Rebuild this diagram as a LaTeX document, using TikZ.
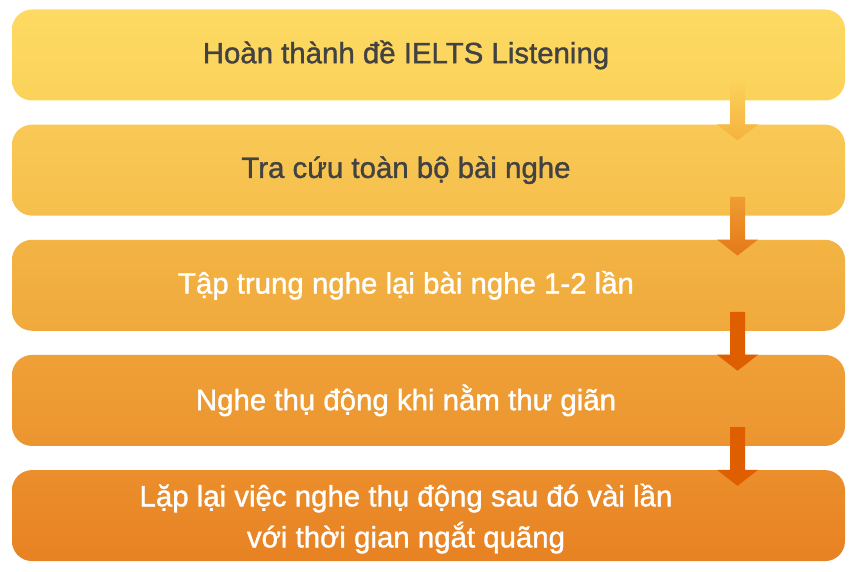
\documentclass[tikz,border=0pt]{standalone}
\usepackage{fontspec}
\setmainfont{Liberation Sans}[FakeBold=1.2]
\usetikzlibrary{
    positioning,   % Relative positioning
    calc           % Coordinate calculations
}

\definecolor{boxAtop}{HTML}{FDDA63}
\definecolor{boxAbot}{HTML}{FBD25A}
\definecolor{boxBtop}{HTML}{F9C955}
\definecolor{boxBbot}{HTML}{F6BF4C}
\definecolor{boxCtop}{HTML}{F3B444}
\definecolor{boxCbot}{HTML}{F0A93C}
\definecolor{boxDtop}{HTML}{EFA037}
\definecolor{boxDbot}{HTML}{EC9530}
\definecolor{boxEtop}{HTML}{EB8E2C}
\definecolor{boxEbot}{HTML}{E88222}
\definecolor{darktext}{HTML}{424242}
\definecolor{arrowA}{HTML}{F5B23E}
\definecolor{arrowBtop}{HTML}{EF9D33}
\definecolor{arrowBbot}{HTML}{E57818}
\definecolor{arrowC}{HTML}{DF5F00}

\begin{document}
\begin{tikzpicture}[x=1pt,y=1pt,
    stepbox/.style={rectangle, rounded corners=20pt, minimum width=833pt,
        minimum height=91pt, inner sep=0pt},
    steptext/.style={font=\fontsize{29.4}{41}\selectfont, align=center},
    node distance=23.75pt]
    \useasboundingbox (0,0) rectangle (856,572);

    % boxes
    \node[stepbox, top color=boxAtop, bottom color=boxAbot] (s1) at (428.5,517) {};
    \node[stepbox, top color=boxBtop, bottom color=boxBbot, below=of s1] (s2) {};
    \node[stepbox, top color=boxCtop, bottom color=boxCbot, below=of s2] (s3) {};
    \node[stepbox, top color=boxDtop, bottom color=boxDbot, below=of s3] (s4) {};
    \node[stepbox, top color=boxEtop, bottom color=boxEbot, below=of s4] (s5) {};

    % texts
    \node[steptext, text=darktext] (t1) at ([xshift=-22.5pt]s1.center) {Hoàn thành đề IELTS Listening};
    \node[steptext, text=darktext] (t2) at ([xshift=-22.5pt]s2.center) {Tra cứu toàn bộ bài nghe};
    \node[steptext, text=white] (t3) at ([xshift=-22.5pt]s3.center) {Tập trung nghe lại bài nghe 1-2 lần};
    \node[steptext, text=white] (t4) at ([xshift=-22.5pt]s4.center) {Nghe thụ động khi nằm thư giãn};
    \node[steptext, text=white] (t5) at ([xshift=-22.5pt,yshift=-3pt]s5.center) {Lặp lại việc nghe thụ động sau đó vài lần\\với thời gian ngắt quãng};

    % arrows
    \coordinate (ax) at (737.5,0);
    \shade[top color=boxAbot, bottom color=arrowA]
        ($(s1.south -| ax)+(-7.5,19)$) -- ($(s2.north -| ax)+(-7.5,0)$) -- ++(-13,0)
        -- ($(s2.north -| ax)+(0,-16)$) -- ($(s2.north -| ax)+(20.5,0)$) -- ++(-13,0)
        -- ($(s1.south -| ax)+(7.5,19)$) -- cycle;
    \shade[top color=arrowBtop, bottom color=arrowBbot]
        ($(s2.south -| ax)+(-7.5,19)$) -- ($(s3.north -| ax)+(-7.5,0)$) -- ++(-13,0)
        -- ($(s3.north -| ax)+(0,-16)$) -- ($(s3.north -| ax)+(20.5,0)$) -- ++(-13,0)
        -- ($(s2.south -| ax)+(7.5,19)$) -- cycle;
    \fill[arrowC]
        ($(s3.south -| ax)+(-7.5,19)$) -- ($(s4.north -| ax)+(-7.5,0)$) -- ++(-13,0)
        -- ($(s4.north -| ax)+(0,-16)$) -- ($(s4.north -| ax)+(20.5,0)$) -- ++(-13,0)
        -- ($(s3.south -| ax)+(7.5,19)$) -- cycle;
    \fill[arrowC]
        ($(s4.south -| ax)+(-7.5,19)$) -- ($(s5.north -| ax)+(-7.5,0)$) -- ++(-13,0)
        -- ($(s5.north -| ax)+(0,-16)$) -- ($(s5.north -| ax)+(20.5,0)$) -- ++(-13,0)
        -- ($(s4.south -| ax)+(7.5,19)$) -- cycle;
\end{tikzpicture}
\end{document}
